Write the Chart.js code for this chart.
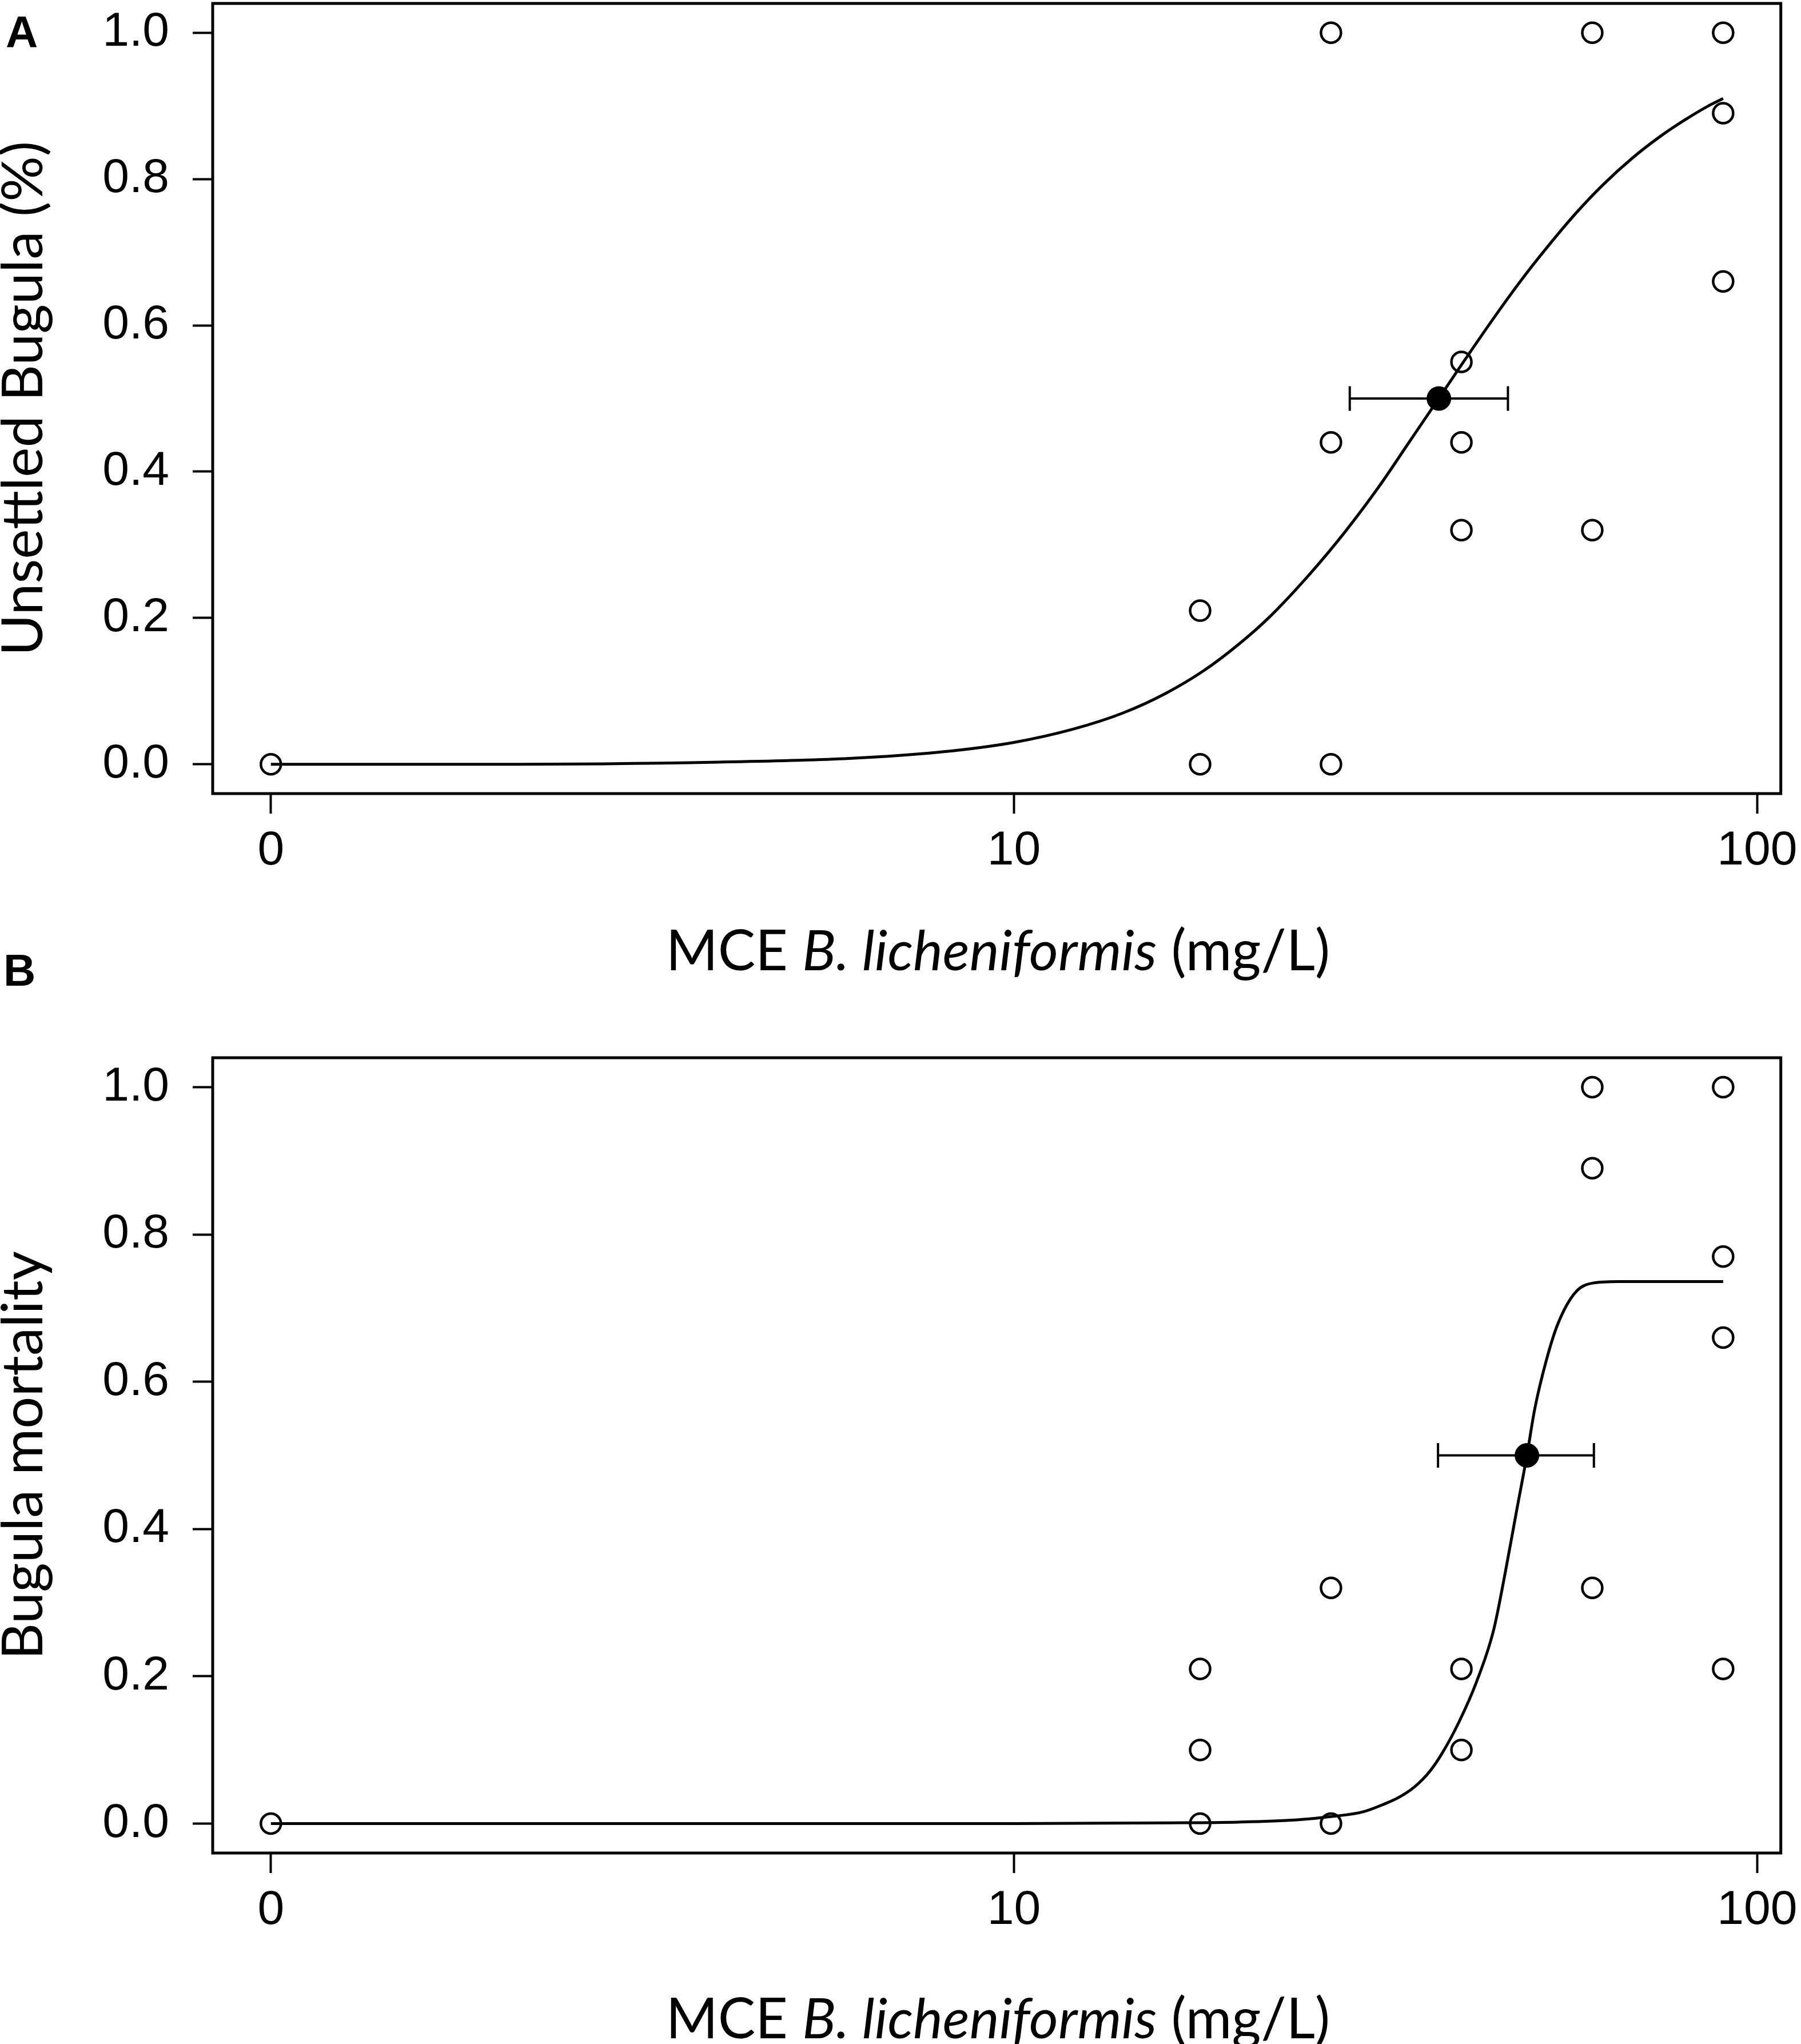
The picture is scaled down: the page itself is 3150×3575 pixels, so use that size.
<!DOCTYPE html>
<html>
<head>
<meta charset="utf-8">
<script src="https://cdn.jsdelivr.net/npm/chart.js@4.4.1/dist/chart.umd.min.js"></script>
<style>
  html, body { margin: 0; padding: 0; background: #fff; }
  #page { position: relative; width: 3150px; height: 3575px; overflow: hidden; background: #fff; }
  canvas { position: absolute; left: 0; }
  #chartA { top: -100px; }
  #chartB { top: 1699px; }
  .panel { position: absolute; font-family: 'Liberation Sans', Arial, sans-serif; font-weight: bold;
           font-size: 78px; line-height: 78px; color: #000; }
  .xtitle { position: absolute; left: 372px; width: 2747px; text-align: center; white-space: nowrap;
            font-family: Lato, sans-serif; font-size: 98px; line-height: 98px; color: #000; }
</style>
</head>
<body>
<div id="page">
  <canvas id="chartA" width="3159" height="1660"></canvas>
  <canvas id="chartB" width="3159" height="1714"></canvas>
  <div class="panel" style="left:10px; top:17px;">A</div>
  <div class="panel" style="left:6px; top:1658px;">B</div>
  <div class="xtitle" style="top:1610px;">MCE <i>B. licheniformis</i> (mg/L)</div>
  <div class="xtitle" style="top:3478px;">MCE <i>B. licheniformis</i> (mg/L)</div>
</div>
<script>
// axis ticks (dose 0 sits at 1 on the log axis and is labelled "0")
const xTicks = [1, 10, 100];
const xTickLabels = ['0', '10', '100'];
const yTicks = [0, 0.2, 0.4, 0.6, 0.8, 1.0];

// panel A - unsettled Bugula
const doseA = [1, 17.8, 17.8, 26.7, 26.7, 26.7, 40, 40, 40, 60, 60, 90, 90, 90];
const unsettledA = [0, 0.21, 0, 1.0, 0.44, 0, 0.55, 0.44, 0.32, 1.0, 0.32, 1.0, 0.89, 0.66];
const curveDoseA = [1, 2, 4, 6, 8, 10, 12, 14, 16, 18, 20, 22, 25, 28, 31, 34, 37, 40, 44, 48, 52, 57, 62, 68, 74, 80, 86, 90];
const curveA = [0, 0, 0.003, 0.008, 0.017, 0.03, 0.048, 0.07, 0.097, 0.128, 0.163, 0.20, 0.26, 0.32, 0.38, 0.44, 0.495, 0.546, 0.607, 0.66, 0.705, 0.753, 0.792, 0.829, 0.858, 0.881, 0.90, 0.91];
const ec50A = [37.3, 0.5];
const ciA = [28.3, 46.2];

// panel B - Bugula mortality
const doseB = [1, 17.8, 17.8, 17.8, 26.7, 26.7, 40, 40, 60, 60, 60, 90, 90, 90, 90];
const mortalityB = [0, 0.21, 0.10, 0, 0.32, 0, 0.21, 0.10, 1.0, 0.89, 0.32, 1.0, 0.77, 0.66, 0.21];
const curveDoseB = [1, 10, 16, 20, 24, 27, 29.5, 31.4, 33, 34.6, 36.2, 37.6, 39.7, 41.9, 44.2, 45.8, 47.5, 49.0, 50.2, 52.0, 53.9, 56.9, 60.1, 65, 90];
const curveB = [0, 0, 0.001, 0.002, 0.005, 0.010, 0.016, 0.026, 0.036, 0.050, 0.070, 0.094, 0.138, 0.192, 0.263, 0.340, 0.427, 0.500, 0.563, 0.628, 0.678, 0.721, 0.734, 0.736, 0.736];
const ec50B = [49.0, 0.5];
const ciB = [37.2, 60.3];

Chart.defaults.font.family = "'Liberation Sans', Arial, sans-serif";
Chart.defaults.color = '#000';

// box around the plot region, like R's bty="o"
const frame = {
    id: 'frame',
    afterDatasetsDraw(chart) {
        const { ctx, chartArea: a } = chart;
        ctx.save();
        ctx.strokeStyle = '#000';
        ctx.lineWidth = 5;
        ctx.strokeRect(a.left, a.top, a.right - a.left, a.bottom - a.top);
        ctx.restore();
    }
};

function pts(xs, ys) {
    return xs.map((x, i) => ({ x: x, y: ys[i] }));
}

const tickGrid = { drawOnChartArea: false, tickLength: 35, tickWidth: 4, tickColor: '#000', color: '#000' };

function drawPanel(id, p) {
    new Chart(document.getElementById(id), {
        type: 'scatter',
        data: {
            datasets: [
                // EC50 point
                { data: [{ x: p.ec50[0], y: p.ec50[1] }], pointRadius: 21,
                  pointBackgroundColor: '#000', pointBorderColor: '#000', pointBorderWidth: 1 },
                // confidence interval
                { data: [{ x: p.ci[0], y: p.ec50[1] }, { x: p.ci[1], y: p.ec50[1] }], showLine: true,
                  borderColor: '#000', borderWidth: 4, pointStyle: 'line', rotation: 90,
                  pointRadius: 21.5, pointBorderWidth: 4, pointBorderColor: '#000' },
                // fitted curve
                { data: pts(p.curveX, p.curveY), showLine: true, borderColor: '#000', borderWidth: 5,
                  pointRadius: 0, cubicInterpolationMode: 'monotone' },
                // observations
                { data: pts(p.doseX, p.respY), pointRadius: 17.5, pointBorderWidth: 4.5,
                  pointBorderColor: '#000', pointBackgroundColor: 'rgba(0,0,0,0)' }
            ]
        },
        options: {
            responsive: false,
            maintainAspectRatio: false,
            devicePixelRatio: 1,
            animation: false,
            events: [],
            layout: { padding: { left: 0, right: 40, top: p.padTop, bottom: 2 } },
            plugins: { legend: { display: false }, tooltip: { enabled: false } },
            scales: {
                x: {
                    type: 'logarithmic', min: 0.835, max: 107.6, bounds: 'data',
                    afterBuildTicks: s => { s.ticks = xTicks.map(v => ({ value: v })); },
                    afterFit: s => { s.height = 170; },
                    ticks: {
                        autoSkip: false, maxRotation: 0, padding: 15, font: { size: 84 }, color: '#000',
                        callback: v => { const i = xTicks.indexOf(v); return i >= 0 ? xTickLabels[i] : ''; }
                    },
                    grid: tickGrid,
                    border: { display: false }
                },
                y: {
                    type: 'linear', min: -0.04, max: 1.04, bounds: 'data',
                    afterBuildTicks: s => { s.ticks = yTicks.map(v => ({ value: v })); },
                    afterFit: s => { s.width = 372; },
                    ticks: { padding: 41, font: { size: 84 }, color: '#000', callback: v => v.toFixed(1) },
                    grid: tickGrid,
                    border: { display: false },
                    title: {
                        display: true, text: p.yTitle, color: '#000',
                        font: { family: 'Lato', size: 99, lineHeight: 0.8 },
                        padding: { top: 2, bottom: 0 }
                    }
                }
            }
        },
        plugins: [frame]
    });
}

drawPanel('chartA', {
    padTop: 106, yTitle: 'Unsettled Bugula (%)',
    doseX: doseA, respY: unsettledA, curveX: curveDoseA, curveY: curveA, ec50: ec50A, ci: ciA
});
drawPanel('chartB', {
    padTop: 151, yTitle: 'Bugula mortality',
    doseX: doseB, respY: mortalityB, curveX: curveDoseB, curveY: curveB, ec50: ec50B, ci: ciB
});
</script>
</body>
</html>
